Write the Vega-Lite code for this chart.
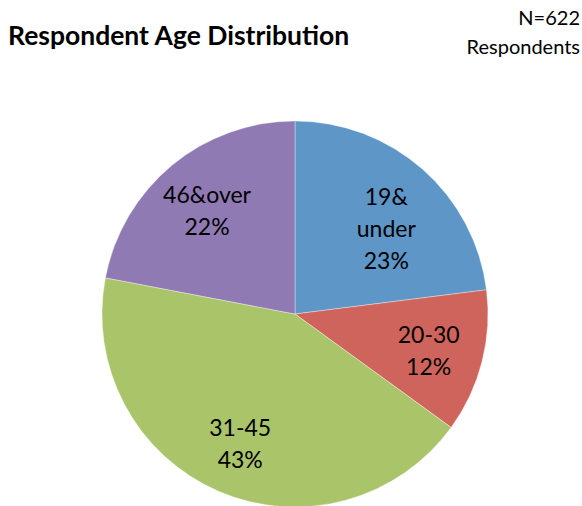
{
  "$schema": "https://vega.github.io/schema/vega-lite/v6.json",
  "autosize": {"type": "none"},
  "width": 384,
  "height": 384,
  "padding": {"left": 103, "top": 122, "right": 95, "bottom": 0},
  "background": "white",
  "config": {"view": {"stroke": null}, "font": "Lato"},
  "data": {
    "values": [
      {"category": "19&under", "value": 23, "label": ["19&", "under", "23%"]},
      {"category": "20-30", "value": 12, "label": ["20-30", "12%"]},
      {"category": "31-45", "value": 43, "label": ["31-45", "43%"]},
      {"category": "46&over", "value": 22, "label": ["46&over", "22%"]}
    ]
  },
  "encoding": {
    "theta": {"field": "value", "type": "quantitative", "stack": true},
    "color": {
      "field": "category",
      "type": "nominal",
      "scale": {
        "domain": ["19&under", "20-30", "31-45", "46&over"],
        "range": ["#5E96C8", "#CF645C", "#AAC46A", "#907AB3"]
      },
      "legend": null
    }
  },
  "layer": [
    {
      "mark": {"type": "arc", "outerRadius": 193, "stroke": "#ffffff", "strokeWidth": 0.6, "strokeOpacity": 0.6}
    },
    {
      "mark": {"type": "text", "radius": 138, "dy": -12, "fontSize": 23, "font": "Lato", "lineHeight": 32, "color": "#000000", "baseline": "middle"},
      "encoding": {
        "text": {"field": "label"},
        "color": {"value": "#000000"}
      }
    },
    {
      "data": {"values": [{"title": "Respondent Age Distribution"}]},
      "mark": {"type": "text", "align": "left", "baseline": "alphabetic", "fontSize": 26.5, "fontWeight": "bold", "font": "Lato", "color": "#000000"},
      "encoding": {
        "text": {"field": "title"},
        "x": {"value": -95},
        "y": {"value": -77},
        "theta": null,
        "color": {"value": "#000000"}
      }
    },
    {
      "data": {"values": [{"note": ["N=622", "Respondents"]}]},
      "mark": {"type": "text", "align": "right", "baseline": "alphabetic", "fontSize": 20, "font": "Lato", "lineHeight": 29, "color": "#000000"},
      "encoding": {
        "text": {"field": "note"},
        "x": {"value": 477},
        "y": {"value": -97},
        "theta": null,
        "color": {"value": "#000000"}
      }
    }
  ]
}
